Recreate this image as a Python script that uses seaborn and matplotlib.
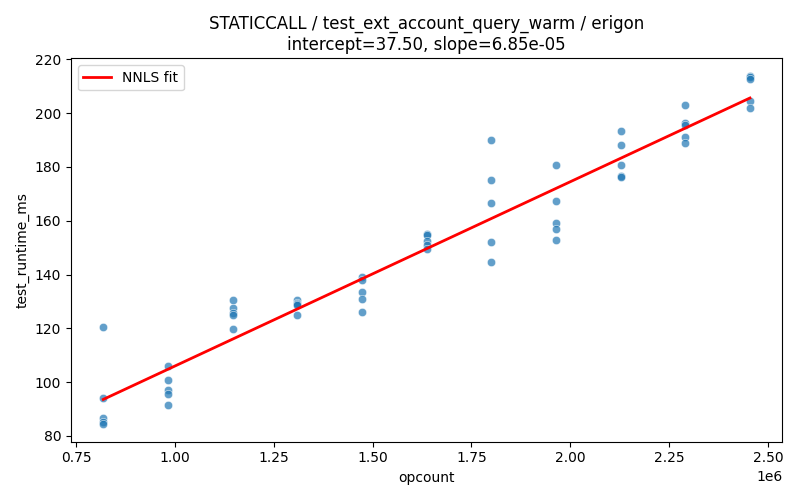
import numpy as np
import pandas as pd
import matplotlib
matplotlib.use("Agg")
import matplotlib.pyplot as plt
import seaborn as sns

opcounts = [818250, 981900, 1145550, 1309200, 1472850, 1636500,
            1800150, 1963800, 2127450, 2291100, 2454750]
runtimes = [
    [120.3, 94.0, 86.8, 85.0, 84.3],
    [105.9, 100.7, 97.0, 95.5, 91.4],
    [130.4, 127.7, 125.8, 125.1, 119.9],
    [130.5, 129.3, 129.0, 128.7, 124.9],
    [139.2, 138.0, 133.5, 130.8, 126.0],
    [155.1, 154.6, 152.6, 151.0, 149.4],
    [189.9, 175.1, 166.5, 152.0, 144.6],
    [180.6, 167.3, 159.1, 156.8, 152.8],
    [193.3, 188.1, 180.6, 176.7, 176.3],
    [202.9, 196.2, 195.5, 191.0, 188.8],
    [213.9, 213.4, 212.7, 204.6, 201.8],
]
intercept = 37.50
slope = 6.85e-05

rows = [(x, y) for x, ys in zip(opcounts, runtimes) for y in ys]
df = pd.DataFrame(rows, columns=["opcount", "test_runtime_ms"])

fig, ax = plt.subplots(figsize=(8, 5), dpi=100)
sns.scatterplot(data=df, x="opcount", y="test_runtime_ms", alpha=0.7, ax=ax)

xs = np.array([min(opcounts), max(opcounts)])
ax.plot(xs, intercept + slope * xs, color="red", linewidth=2, label="NNLS fit")
ax.legend(loc="upper left")
ax.set_title("STATICCALL / test_ext_account_query_warm / erigon\n"
             f"intercept={intercept:.2f}, slope={slope:.2e}")
fig.tight_layout()
fig.savefig("out.png")
